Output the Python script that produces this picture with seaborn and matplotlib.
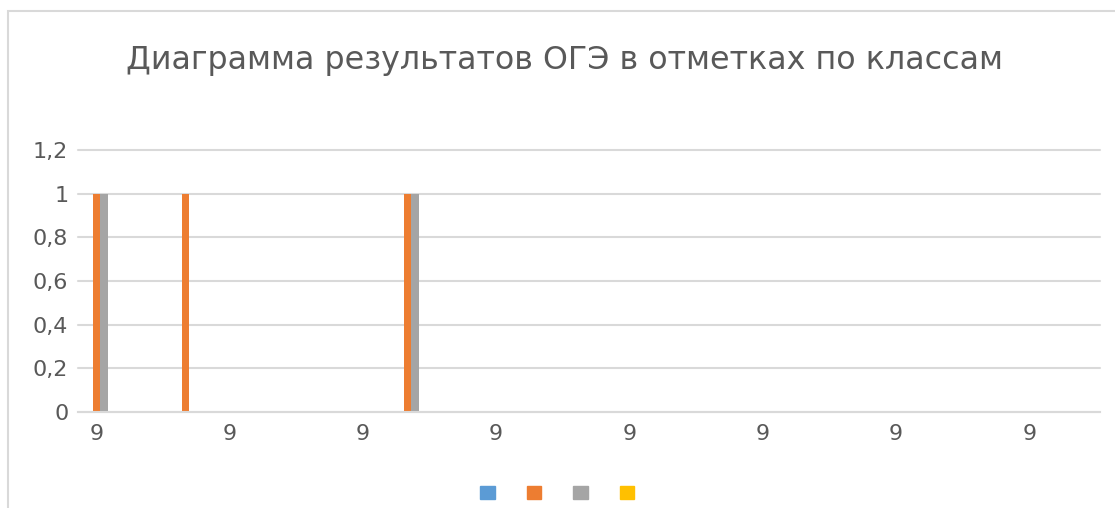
import pandas as pd
import matplotlib.pyplot as plt
import matplotlib.patches as mpatches
import matplotlib.transforms as mtransforms
import seaborn as sns

# данные: 23 класса (подписаны все "9"), 4 ряда отметок без имён
class_labels = ["9"] * 23
series_names = ["2", "3", "4", "5"]
vals_blue = [0] * 23
vals_orange = [1, 0, 1, 0, 0, 0, 0, 1] + [0] * 15
vals_gray = [1, 0, 0, 0, 0, 0, 0, 1] + [0] * 15
vals_yellow = [0] * 23
colors = ["#5B9BD5", "#ED7D31", "#A5A5A5", "#FFC000"]

rows = []
for name, vals in zip(series_names, [vals_blue, vals_orange, vals_gray, vals_yellow]):
    for i, v in enumerate(vals):
        rows.append({"cls": i, "mark": name, "value": v})
df = pd.DataFrame(rows)

sns.set_style("white")
plt.rcParams["font.family"] = ["DejaVu Sans"]
txt = "#595959"
grid = "#D9D9D9"

fig = plt.figure(figsize=(11.15, 5.08), dpi=100)
ax = fig.add_axes([78 / 1115, 1 - 412 / 508, (1100 - 78) / 1115, (412 - 150) / 508])

sns.barplot(data=df, x="cls", y="value", hue="mark", order=list(range(23)),
            hue_order=series_names, palette=colors, saturation=1, width=0.66, gap=0,
            linewidth=0, legend=False, ax=ax)

ax.set_xlim(-0.5, 22.5)
ax.set_ylim(0, 1.2)
yt = [0, 0.2, 0.4, 0.6, 0.8, 1.0, 1.2]
ax.set_yticks(yt)
ax.set_yticklabels([("%g" % t).replace(".", ",") for t in yt])
xt = list(range(0, 23, 3))
ax.set_xticks(xt)
ax.set_xticklabels([class_labels[i] for i in xt])
ax.tick_params(axis="both", length=0, labelsize=16, colors=txt)
ax.tick_params(axis="y", pad=7)
ax.tick_params(axis="x", pad=9)
# подписи оси X в Excel слегка смещены влево
shift = mtransforms.ScaledTranslation(-4 / 100, 0, fig.dpi_scale_trans)
for lab in ax.get_xticklabels():
    lab.set_transform(lab.get_transform() + shift)
ax.set_xlabel("")
ax.set_ylabel("")
ax.yaxis.grid(True, color=grid, linewidth=1.5)
for gl in ax.get_ygridlines():
    gl.set_clip_on(False)
ax.set_axisbelow(True)
for s in ["left", "right", "top"]:
    ax.spines[s].set_visible(False)
ax.spines["bottom"].set_color(grid)
ax.spines["bottom"].set_linewidth(1.5)

fig.text(564.5 / 1115, 1 - 61 / 508, "Диаграмма результатов ОГЭ в отметках по классам",
         ha="center", va="center", fontsize=22.9, color=txt)

# рамка области диаграммы
fig.patches.append(mpatches.Rectangle((8 / 1115, -0.1), 1.2, 1.1 - 11 / 508,
                                      transform=fig.transFigure, fill=False,
                                      edgecolor=grid, linewidth=1.5))

handles = [mpatches.Patch(color=c) for c in colors]
fig.legend(handles, ["", "", "", ""], ncol=4, loc="center",
           bbox_to_anchor=(560 / 1115, 1 - 493 / 508), frameon=False,
           fontsize=10, handlelength=1.05, handleheight=1.05,
           handletextpad=0.4, columnspacing=1.9)

fig.savefig("out.png", dpi=100)
